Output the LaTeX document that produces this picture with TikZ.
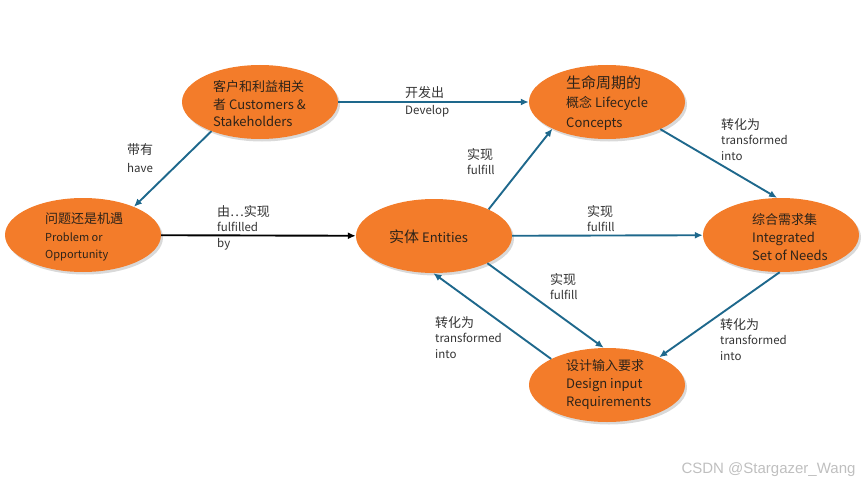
\documentclass[tikz,border=0pt]{standalone}
\usepackage{fontspec}
\setmainfont{Noto Sans CJK SC}
\newfontfamily\wmfont{Liberation Sans}
\usetikzlibrary{shapes.geometric,shadows,arrows.meta}
\definecolor{blobfill}{RGB}{243,124,42}
\definecolor{linkblue}{RGB}{30,104,140}
\definecolor{blobink}{RGB}{45,35,25}
\tikzset{
	blob/.style={ellipse, fill=blobfill, minimum width=156pt, minimum height=74pt, inner sep=0pt,
		drop shadow={opacity=0.3, shadow xshift=2pt, shadow yshift=-2.5pt}},
	blobtxt/.style={align=left, anchor=west, inner sep=0pt, text=blobink, font=\fontsize{13}{17.5}\selectfont},
	link/.style={draw=linkblue, line width=1.9pt, -{Latex[length=8pt,width=7pt]}},
	lbl/.style={align=left, anchor=north west, inner sep=0pt, text=black!80, font=\fontsize{11.5}{15.5}\selectfont},
}
\newcommand{\zh}[1]{{\fontsize{13}{15.5}\selectfont #1}}
\begin{document}
\begin{tikzpicture}[x=1pt,y=-1pt]
\useasboundingbox (0,0) rectangle (865,487);
% ellipses
\node[blob] (cust) at (260,102) {};
\node[blob] (prob) at (83,235) {};
\node[blob] (life) at (607,102) {};
\node[blob] (ent) at (434,236) {};
\node[blob] (intg) at (781,235) {};
\node[blob] (des) at (607,385) {};
% texts in the ellipses
\node[blobtxt] (custtxt) at (213,104) {客户和利益相关\\者 Customers \&\\Stakeholders};
\node[blobtxt] (probtxt) at (45,237) {问题还是机遇\\{\fontsize{11}{16}\selectfont Problem or}\\{\fontsize{11}{16}\selectfont Opportunity}};
\node[blobtxt, font=\fontsize{13}{19.5}\selectfont] (lifetxt) at (566,103) {{\fontsize{15}{19.5}\selectfont 生命周期的}\\概念 Lifecycle\\Concepts};
\node[blobtxt] (enttxt) at (389,237) {{\fontsize{15}{18}\selectfont 实体} Entities};
\node[blobtxt, font=\fontsize{13}{18}\selectfont] (intgtxt) at (752,237) {综合需求集\\Integrated\\Set of Needs};
\node[blobtxt, font=\fontsize{13}{18}\selectfont] (destxt) at (566,385) {设计输入要求\\Design input\\Requirements};
% connectors
\draw[link] (cust) -- (life);
\draw[link] (cust.211) -- (prob.29);
\draw[link, draw=black] (prob) -- (ent);
\draw[link] (ent.26) -- (life.206);
\draw[link] (ent) -- (intg);
\draw[link] (ent.333) -- (des.95);
\draw[link] (des.155) -- (ent.269);
\draw[link] (life.333) -- (intg.96);
\draw[link] (intg.268) -- (des.28);
% labels
\node[lbl] (devlbl) at (405,86) {\zh{开发出}\\[2pt]Develop};
\node[lbl] (havelbl) at (127,143) {\zh{带有}\\[3pt]have};
\node[lbl] (bylbl) at (217,205) {\zh{由…实现}\\fulfilled\\by};
\node[lbl] (fflife) at (467,148) {\zh{实现}\\fulfill};
\node[lbl] (ffintg) at (587,205) {\zh{实现}\\fulfill};
\node[lbl] (ffdes) at (550,273) {\zh{实现}\\fulfill};
\node[lbl] (tfent) at (435,316) {\zh{转化为}\\transformed\\into};
\node[lbl] (tfintg) at (721,118) {\zh{转化为}\\transformed\\into};
\node[lbl] (tfdes) at (720,318) {\zh{转化为}\\transformed\\into};
% watermark
\node[text=black!25, font=\wmfont\fontsize{15}{18}\selectfont, anchor=east] (mark) at (859,470) {CSDN @Stargazer\_Wang};
\end{tikzpicture}
\end{document}
